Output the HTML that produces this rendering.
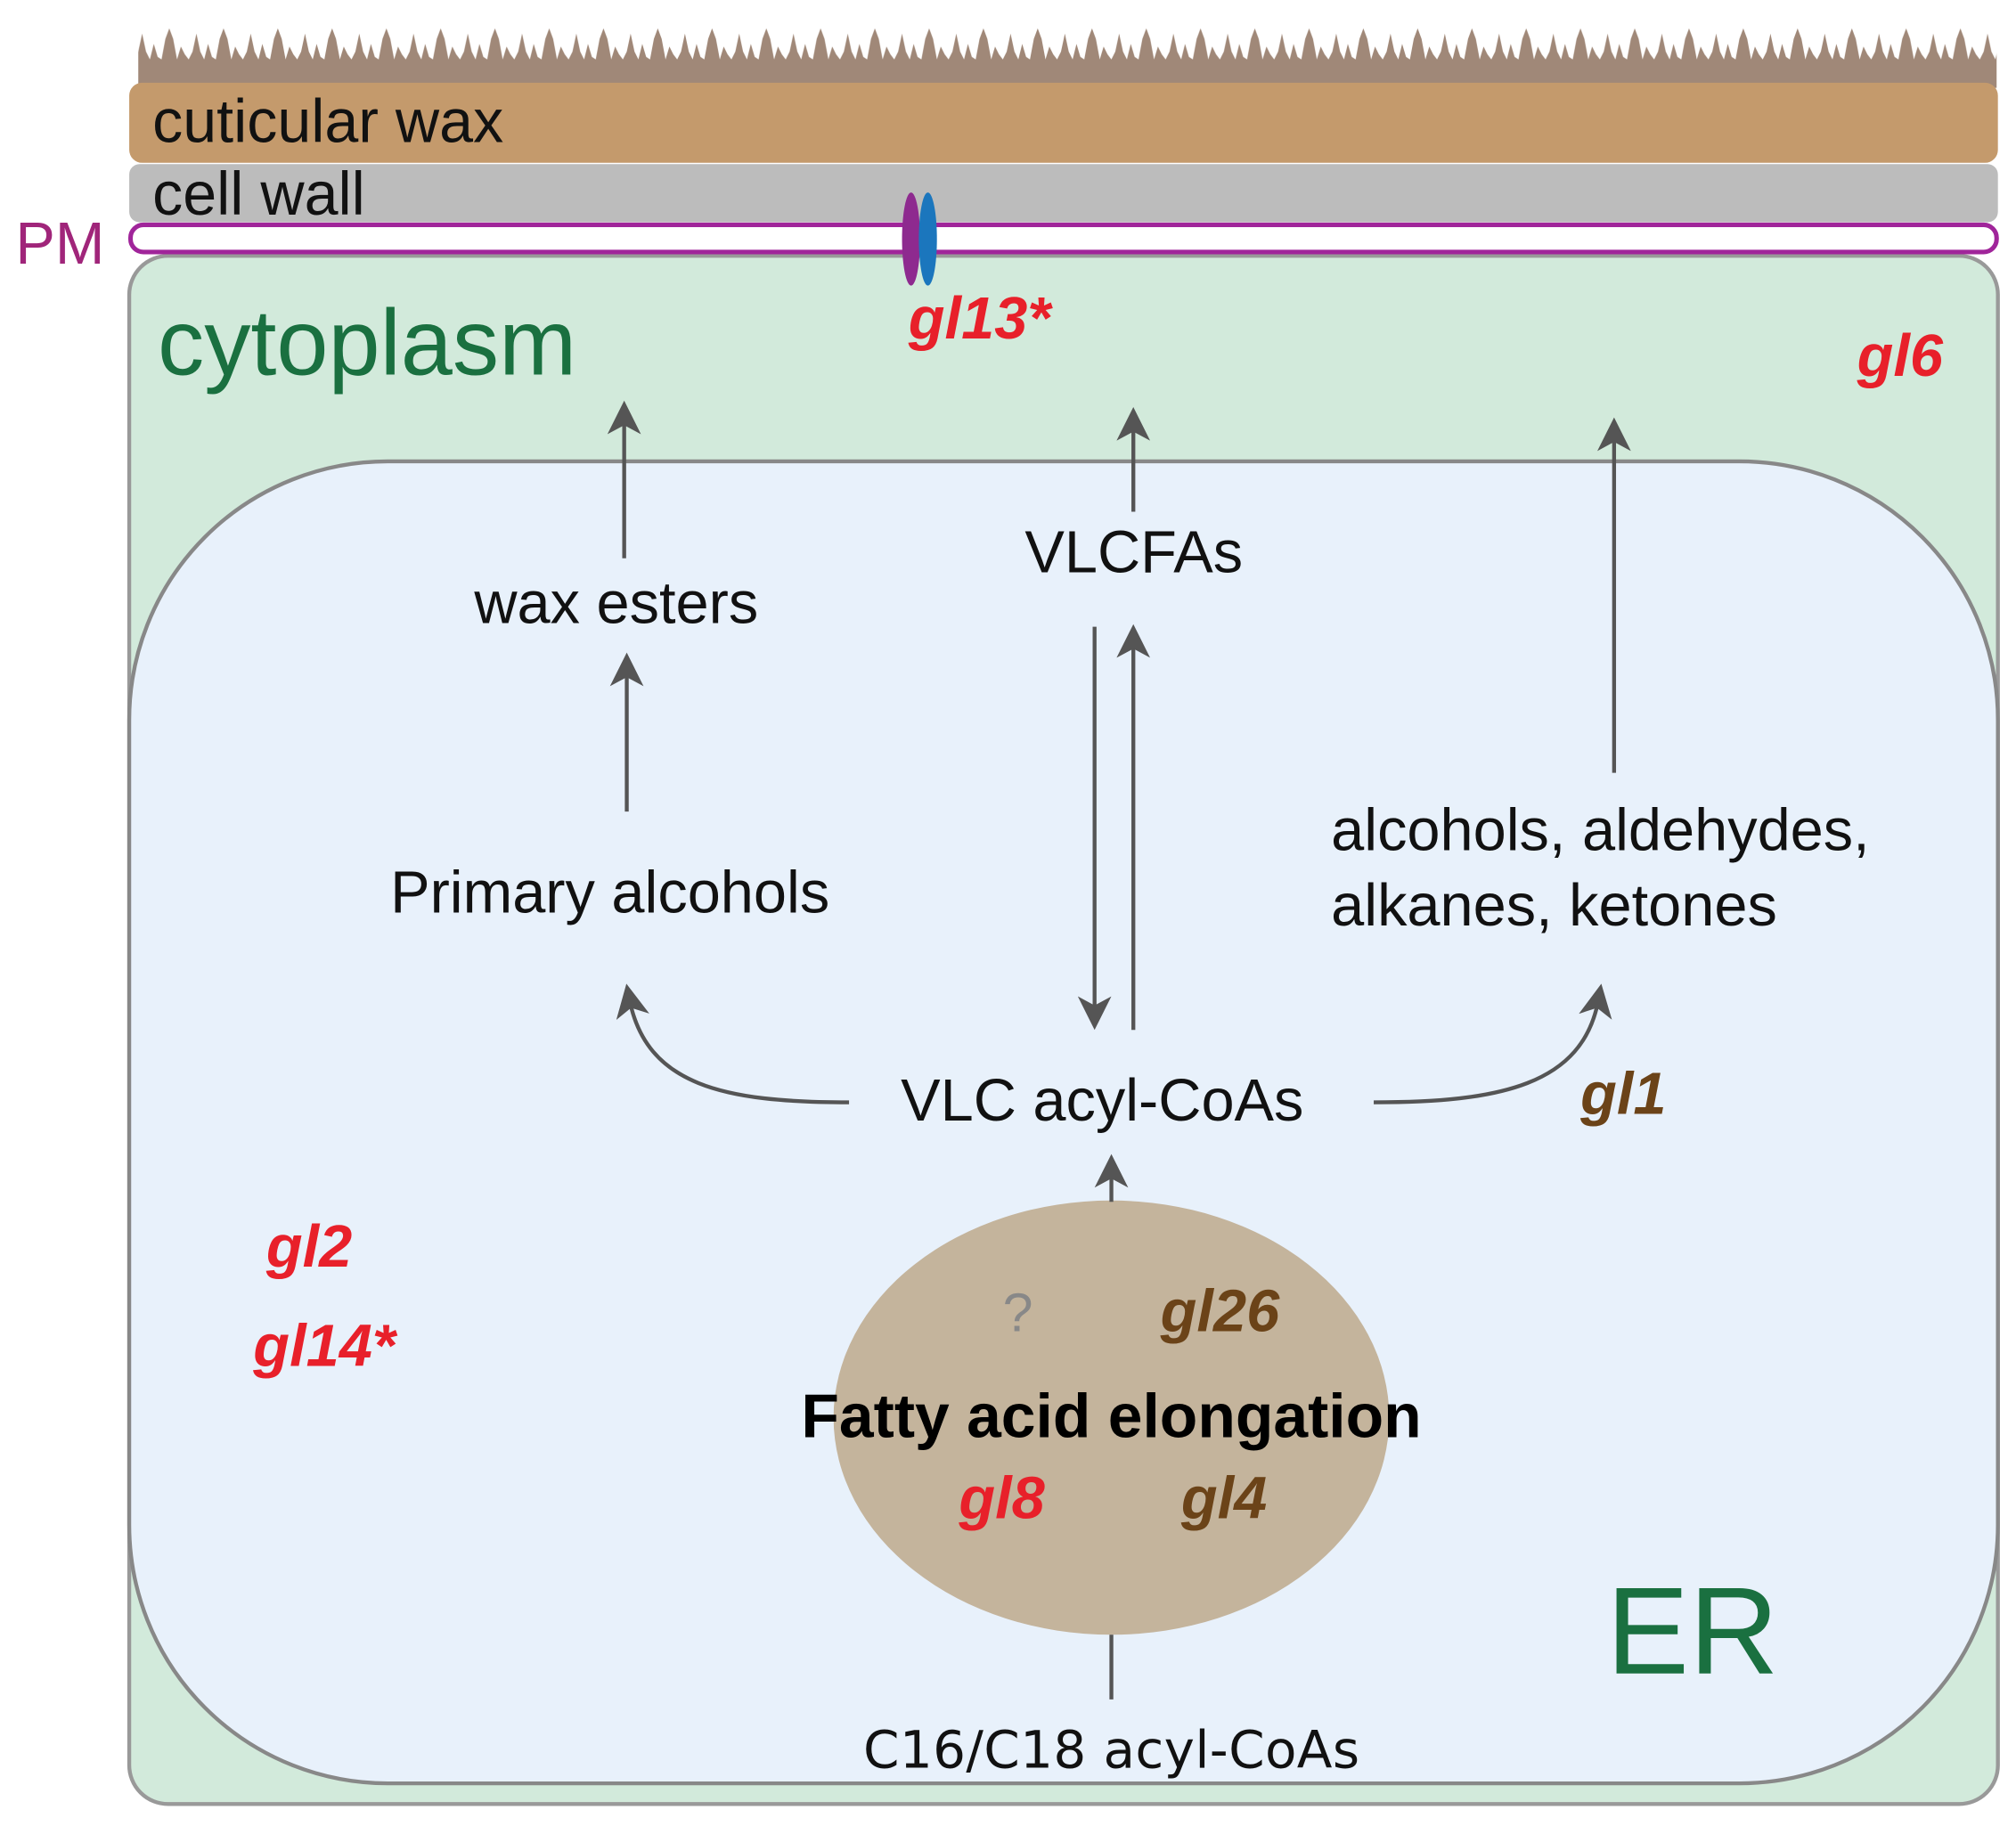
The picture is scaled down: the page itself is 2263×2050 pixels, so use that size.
<!DOCTYPE html>
<html><head><meta charset="utf-8"><style>html,body{margin:0;padding:0;background:#fff}svg{display:block}</style></head>
<body>
<svg width="2263" height="2050" viewBox="0 0 1560 1413" preserveAspectRatio="none" xmlns="http://www.w3.org/2000/svg" font-family="Liberation Sans, sans-serif">
<defs>
<pattern id="sp" x="107" y="0" width="42" height="70" patternUnits="userSpaceOnUse">
<path d="M0 70 L0 40 L3 26 L6 40 L9 46 L12 34 L15 44 L18 46 L21 30 L24 22 L27 30 L30 46 L33 36 L36 42 L39 46 L42 40 L42 70 Z" fill="#a08878"/>
</pattern>
<marker id="ah" markerWidth="30" markerHeight="26" refX="14" refY="13" orient="auto" markerUnits="userSpaceOnUse" viewBox="0 0 30 26"><path d="M0 0 L26 13 L0 26 L7 13 Z" fill="#555"/></marker>
</defs>
<rect x="107" y="20" width="1438" height="48" fill="url(#sp)"/>
<rect x="100" y="64" width="1446" height="62" rx="10" fill="#c49a6c"/>
<rect x="100" y="127" width="1446" height="45" rx="8" fill="#bcbcbc"/>
<rect x="100" y="198" width="1446" height="1198" rx="30" fill="#d2eadb" stroke="#999" stroke-width="3"/>
<rect x="101" y="174" width="1444" height="21" rx="10" fill="#fff" stroke="#a0259a" stroke-width="3.5"/>
<ellipse cx="705" cy="185" rx="7" ry="36" fill="#8e2a8f"/>
<ellipse cx="718" cy="185" rx="7" ry="36" fill="#1b76bd"/>
<path d="M300 357 H1346 A200 200 0 0 1 1546 557 V1180 A200 200 0 0 1 1346 1380 H300 A200 200 0 0 1 100 1180 V557 A200 200 0 0 1 300 357 Z" fill="#e8f1fb" stroke="#888" stroke-width="3"/>
<ellipse cx="860" cy="1097" rx="215" ry="168" fill="#c4b49c"/>
<g stroke="#555" stroke-width="3" fill="none">
<line x1="483" y1="432" x2="483" y2="322" marker-end="url(#ah)"/>
<line x1="485" y1="628" x2="485" y2="517" marker-end="url(#ah)"/>
<line x1="877" y1="396" x2="877" y2="327" marker-end="url(#ah)"/>
<line x1="847" y1="485" x2="847" y2="785" marker-end="url(#ah)"/>
<line x1="877" y1="797" x2="877" y2="495" marker-end="url(#ah)"/>
<line x1="1249" y1="598" x2="1249" y2="335" marker-end="url(#ah)"/>
<line x1="860" y1="930" x2="860" y2="905" marker-end="url(#ah)"/>
<line x1="860" y1="1265" x2="860" y2="1315"/>
<path d="M657 853 C560 853 500 840 487 773" marker-end="url(#ah)"/>
<path d="M1063 853 C1160 853 1225 840 1237 773" marker-end="url(#ah)"/>
</g>
<g font-size="47" fill="#111">
<text x="118" y="110">cuticular wax</text>
<text x="118" y="166">cell wall</text>
</g>
<text x="12" y="204" font-size="46" fill="#a0257a">PM</text>
<text x="122" y="290" font-size="72" fill="#1a7040">cytoplasm</text>
<text x="1243" y="1295" font-size="96" fill="#1a7040">ER</text>
<g font-size="46" fill="#111">
<text x="367" y="482">wax esters</text>
<text x="793" y="443">VLCFAs</text>
<text x="302" y="706">Primary alcohols</text>
<text x="1030" y="658">alcohols, aldehydes,</text>
<text x="1030" y="716">alkanes, ketones</text>
<text x="697" y="867">VLC acyl-CoAs</text>
<text x="668" y="1368" font-family="DejaVu Sans, sans-serif" font-size="40" textLength="384">C16/C18 acyl-CoAs</text>
</g>
<text x="860" y="1112" font-size="48" font-weight="bold" text-anchor="middle" fill="#000">Fatty acid elongation</text>
<text x="776" y="1030" font-size="42" fill="#888">?</text>
<g font-size="46" font-weight="bold" font-style="italic">
<text x="703" y="262" fill="#e8202a">gl13*</text>
<text x="1437" y="291" fill="#e8202a">gl6</text>
<text x="1223" y="862" fill="#6b4318">gl1</text>
<text x="206" y="980" fill="#e8202a">gl2</text>
<text x="196" y="1057" fill="#e8202a">gl14*</text>
<text x="898" y="1030" fill="#6b4318">gl26</text>
<text x="742" y="1175" fill="#e8202a">gl8</text>
<text x="914" y="1175" fill="#6b4318">gl4</text>
</g>
</svg>
</body></html>
